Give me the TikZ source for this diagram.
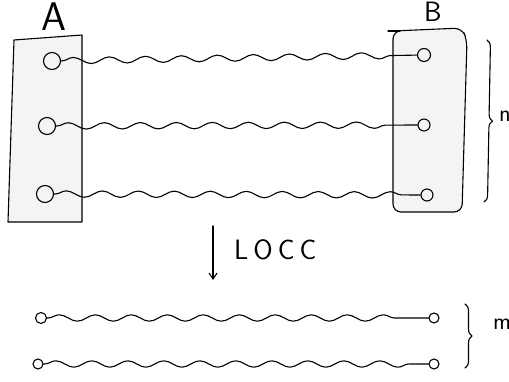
\documentclass[tikz,border=0pt]{standalone}
\usepackage{fontspec}
\usetikzlibrary{decorations.pathmorphing,decorations.pathreplacing,arrows.meta}
\definecolor{partyfill}{HTML}{F4F4F2}
\tikzset{
  x=1pt, y=-1pt,
  ink/.style={line width=1.1pt, black, line cap=round, line join=round},
  qubit/.style={ink, draw, circle, inner sep=0pt, minimum width=#1, minimum height=#1},
  qubit/.default=15pt,
  wave/.style={ink, decorate, decoration={snake, segment length=36pt, amplitude=3.2pt, pre length=1pt, post length=18pt}},
  party/.style={ink, fill=partyfill},
  curly/.style={ink, decorate, decoration={brace, amplitude=7pt}}
}
\begin{document}
\begin{tikzpicture}
\useasboundingbox (0,0) rectangle (509,382);

% the two parties
\draw[party] (14,40) -- (82,35) -- (82,222) -- (8,222) -- cycle;
\draw[party, rounded corners=8pt] (393,31) -- (462,28) -- (467,40) -- (462,212) -- (393,212) -- cycle;
\draw[ink] (388,31) -- (400,31);

\node[font=\sffamily\fontsize{40}{40}\selectfont, anchor=base] (la) at (54,31) {A};
\node[font=\sffamily\fontsize{28}{28}\selectfont, anchor=base] (lb) at (433,22) {B};

% shared pairs before LOCC
\node[qubit=17pt] (a1) at (52,61) {};
\node[qubit=17pt] (a2) at (47,126) {};
\node[qubit=17pt] (a3) at (45,194) {};
\node[qubit=13pt] (b1) at (424,55) {};
\node[qubit=12pt] (b2) at (424,125) {};
\node[qubit=12pt] (b3) at (427,195) {};

\draw[wave] (a1) -- (b1);
\draw[wave] (a2) -- (b2);
\draw[wave] (a3) -- (b3);

\coordinate (n1) at (487,40);
\coordinate (n2) at (484,202);
\draw[curly] (n1) -- (n2);
\node[font=\sffamily\fontsize{24}{24}\selectfont, anchor=west, inner sep=0pt] (nl) at (499,116) {n};

% the LOCC step
\coordinate (s0) at (213,226);
\coordinate (s1) at (213,280);
\draw[ink, -{Straight Barb[length=6pt, width=8pt]}] (s0) -- (s1);
\node[font=\sffamily\fontsize{28}{28}\selectfont, anchor=base west, inner sep=0pt] (locc) at (234,260) {L\kern5ptO\kern5ptC\kern5ptC};

% pairs after LOCC
\node[qubit=11pt] (c1) at (41,318) {};
\node[qubit=10pt] (c2) at (434,318) {};
\node[qubit=10pt] (d1) at (38,364) {};
\node[qubit=10pt] (d2) at (434,364) {};

\draw[wave] (c1) -- (c2);
\draw[wave] (d1) -- (d2);

\coordinate (m1) at (465,304);
\coordinate (m2) at (465,368);
\draw[curly] (m1) -- (m2);
\node[font=\sffamily\fontsize{24}{24}\selectfont, anchor=west, inner sep=0pt] (ml) at (493,324) {m};
\end{tikzpicture}
\end{document}
